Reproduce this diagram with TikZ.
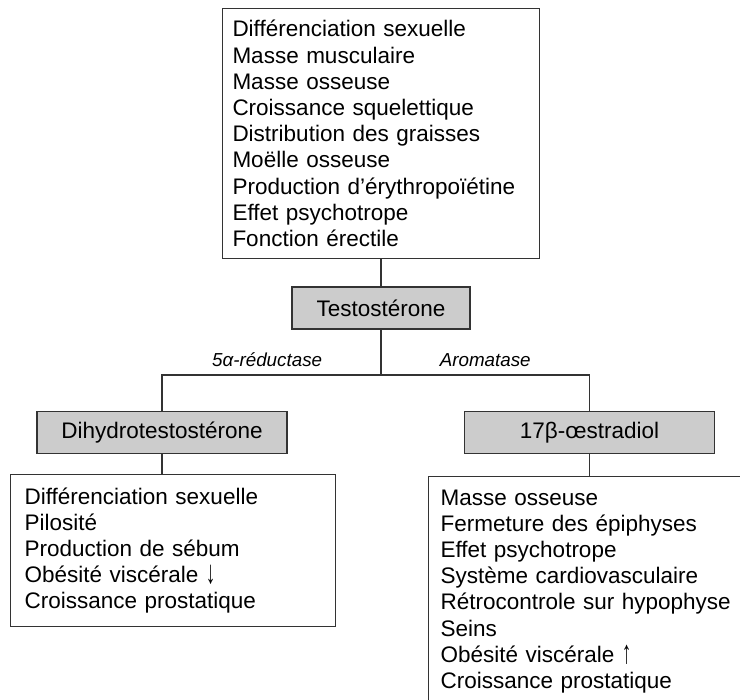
\documentclass[tikz,border=0pt]{standalone}
\usepackage{fontspec}
\setmainfont{Liberation Sans}
\usetikzlibrary{positioning}

\newcommand{\fleche}[1]{\raisebox{-0.1ex}{\scalebox{0.85}[1.45]{#1}}}

\tikzset{
  hormone/.style={draw=black!80, fill=gray!40, line width=1.2pt, minimum height=42pt, font=\fontsize{22.5}{26.2}\selectfont},
  effets/.style={draw=black!80, line width=1.2pt, align=left, inner xsep=12pt, inner ysep=12pt, font=\fontsize{22.5}{26.2}\selectfont},
  enzyme/.style={font=\itshape\fontsize{18.8}{22}\selectfont, above, yshift=4pt},
  lien/.style={draw=black!80, line width=1.2pt}
}

\begin{document}
\begin{tikzpicture}[x=1pt, y=-1pt]
   \useasboundingbox (0,0) rectangle (740,700);
   \clip (0,0) rectangle (740,700);

   \node[hormone, minimum width=178pt] (testo) at (381,308) {Testostérone};
   \node[effets, inner xsep=10pt, text width=297pt, minimum height=248pt] (effetsT) [above=27pt of testo]
      {Différenciation sexuelle\\ Masse musculaire\\ Masse osseuse\\ Croissance squelettique\\
       Distribution des graisses\\ Moëlle osseuse\\ Production d’érythropoïétine\\
       Effet psychotrope\\ Fonction érectile};
   \node[hormone, minimum width=250pt] (dht) at (162,432.5) {Dihydrotestostérone};
   \node[hormone, minimum width=250pt] (oestra) at (589.5,432.5) {17β-œstradiol};
   \node[effets, anchor=north west, inner xsep=14pt, text width=297pt, minimum height=152pt] (effetsDHT) at (10,474)
      {Différenciation sexuelle\\ Pilosité\\ Production de sébum\\ Obésité viscérale \fleche{↓}\\
       Croissance prostatique};
   \node[effets, anchor=north west, inner ysep=13pt, text width=316pt] (effetsOE) at (428,476)
      {Masse osseuse\\ Fermeture des épiphyses\\ Effet psychotrope\\ Système cardiovasculaire\\
       Rétrocontrole sur hypophyse\\ Seins\\ Obésité viscérale \fleche{↑}\\ Croissance prostatique};

   \coordinate (niveau) at (0,375);
   \coordinate (fourche) at (testo.south |- niveau);

   \path[lien]
    (testo.north) -- (testo.north |- effetsT.south)
    (testo.south) -- (fourche)
    (fourche) -| node[enzyme, pos=0.26] {5α-réductase} (dht.north)
    (fourche) -| node[enzyme, pos=0.25] {Aromatase} (oestra.north)
    (dht.south) -- (dht.south |- effetsDHT.north)
    (oestra.south) -- (oestra.south |- effetsOE.north);
\end{tikzpicture}
\end{document}
